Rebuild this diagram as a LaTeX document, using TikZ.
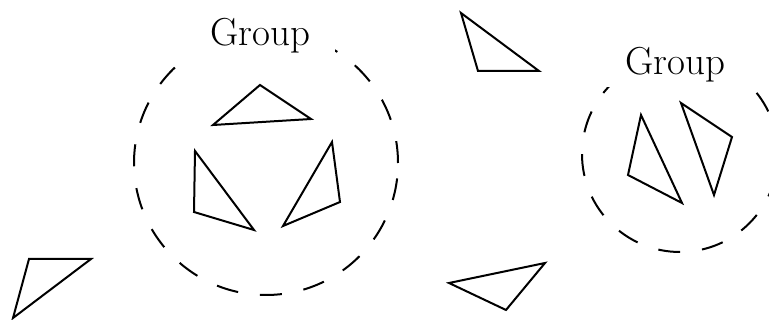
\documentclass[tikz,border=0pt]{standalone}
\begin{document}
\begin{tikzpicture}[x=1pt,y=-1pt,
  tri/.style={draw=black,line width=2pt,line join=miter},
  grpcircle/.style={circle,draw=black,line width=2pt,dash pattern=on 22pt off 22pt,inner sep=0pt},
  grplabel/.style={fill=white,inner sep=0pt,minimum width=150pt,minimum height=44pt,font=\fontsize{39}{42}\selectfont}]
\useasboundingbox (0,0) rectangle (769,320);
\clip (0,0) rectangle (769,320);
% groups
\node[grpcircle,minimum size=264pt] (g1) at (266,163) {};
\node[grplabel] (l1) at (260,36) {Group};
\node[grpcircle,minimum size=196pt] (g2) at (680,154) {};
\node[grplabel] (l2) at (675,65) {Group};
% triangles in group 1
\draw[tri] (260,85) -- (311,119) -- (213,125) -- cycle;
\draw[tri] (195,151) -- (194,212) -- (254,230) -- cycle;
\draw[tri] (332,142) -- (340,202) -- (283,226) -- cycle;
% triangles in group 2
\draw[tri] (641,115) -- (628,175) -- (682,203) -- cycle;
\draw[tri] (681,103) -- (732,137) -- (714,195) -- cycle;
% loose triangles
\draw[tri] (29,259) -- (91,259) -- (13,318) -- cycle;
\draw[tri] (461,13) -- (478,71) -- (539,71) -- cycle;
\draw[tri] (449,283) -- (545,263) -- (506,310) -- cycle;
\end{tikzpicture}
\end{document}
